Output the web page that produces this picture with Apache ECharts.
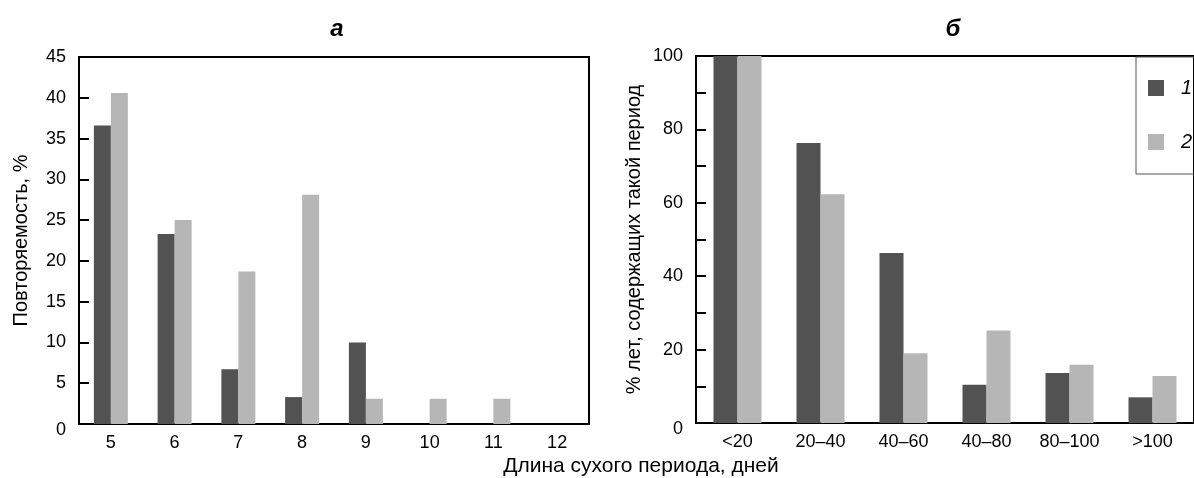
<!DOCTYPE html>
<html>
<head>
<meta charset="utf-8">
<script src="https://cdn.jsdelivr.net/npm/echarts@6/dist/echarts.min.js"></script>
<style>
html,body{margin:0;padding:0;background:#fff;}
#chart{width:1194px;height:478px;}
</style>
</head>
<body>
<div id="chart"></div>
<script>
// ---- data ----
var catsA = ['5', '6', '7', '8', '9', '10', '11', '12'];
var seriesA1 = [36.6, 23.3, 6.7, 3.3, 10.0, 0, 0, 0];
var seriesA2 = [40.6, 25.0, 18.7, 28.1, 3.1, 3.1, 3.1, 0];
var catsB = ['<20', '20–40', '40–60', '40–80', '80–100', '>100'];
var seriesB1 = [100, 76.3, 46.3, 10.4, 13.6, 7.0];
var seriesB2 = [100, 62.3, 19.0, 25.2, 15.9, 12.8];
var seriesNames = ['1', '2'];
var titleA = 'а', titleB = 'б';
var yNameA = 'Повторяемость, %';
var yNameB = '% лет, содержащих такой период';
var xName = 'Длина сухого периода, дней';

var FONT = "'Liberation Sans', Arial, sans-serif";
var DARK = '#525252', LIGHT = '#b6b6b6';
var tickFont = 18;

function zeroFmt(step) {
  return function (v) {
    if (v === 0) return '{z|0}';
    if (step && v % step !== 0) return '';
    return String(v);
  };
}
var zeroRich = { z: { fontFamily: FONT, fontSize: tickFont, color: '#000', padding: [12, 0, 0, 0] } };

var chart = echarts.init(document.getElementById('chart'));
chart.setOption({
  backgroundColor: '#fff',
  animation: false,
  title: [
    { text: titleA, left: 332, top: 12, textAlign: 'center',
      textStyle: { fontFamily: FONT, fontSize: 24, fontWeight: 'bold', fontStyle: 'italic', color: '#000' } },
    { text: titleB, left: 948, top: 12, textAlign: 'center',
      textStyle: { fontFamily: FONT, fontSize: 24, fontWeight: 'bold', fontStyle: 'italic', color: '#000' } }
  ],
  legend: {
    data: seriesNames,
    orient: 'vertical',
    left: 1136, top: 57,
    padding: [21, 40, 22, 12],
    itemWidth: 16, itemHeight: 16, itemGap: 34,
    borderColor: '#555', borderWidth: 1,
    icon: 'rect',
    textStyle: { fontFamily: FONT, fontSize: 20, fontStyle: 'italic', color: '#000', padding: [0, 0, 0, 12] }
  },
  graphic: [
    { type: 'text', x: 641, y: 466,
      style: { text: xName, fontFamily: FONT, fontSize: 21, fill: '#000', align: 'center', verticalAlign: 'middle', textAlign: 'center', textVerticalAlign: 'middle' } }
  ],
  grid: [
    { left: 79, top: 57, width: 510, height: 367, show: true, borderColor: '#000', borderWidth: 2, backgroundColor: 'transparent' },
    { left: 696, top: 56, width: 505, height: 367, show: true, borderColor: '#000', borderWidth: 2, backgroundColor: 'transparent' }
  ],
  xAxis: [
    { type: 'category', gridIndex: 0, data: catsA,
      axisLine: { lineStyle: { color: '#000', width: 2 } },
      axisTick: { inside: true, length: 10, lineStyle: { color: '#000', width: 2 } },
      axisLabel: { fontFamily: FONT, fontSize: tickFont, color: '#000', margin: 10 } },
    { type: 'category', gridIndex: 1, data: catsB,
      axisLine: { lineStyle: { color: '#000', width: 2 } },
      axisTick: { inside: true, length: 10, lineStyle: { color: '#000', width: 2 } },
      axisLabel: { fontFamily: FONT, fontSize: tickFont, color: '#000', margin: 10, interval: 0 } }
  ],
  yAxis: [
    { type: 'value', gridIndex: 0, min: 0, max: 45, interval: 5,
      name: yNameA, nameLocation: 'middle', nameGap: 48,
      nameTextStyle: { fontFamily: FONT, fontSize: 20, color: '#000' },
      splitLine: { show: false },
      axisLine: { show: true, lineStyle: { color: '#000', width: 2 } },
      axisTick: { show: true, inside: true, length: 10, lineStyle: { color: '#000', width: 2 } },
      axisLabel: { fontFamily: FONT, fontSize: tickFont, color: '#000', margin: 13, formatter: zeroFmt(0), rich: zeroRich } },
    { type: 'value', gridIndex: 1, min: 0, max: 100, interval: 10,
      name: yNameB, nameLocation: 'middle', nameGap: 52,
      nameTextStyle: { fontFamily: FONT, fontSize: 20, color: '#000' },
      splitLine: { show: false },
      axisLine: { show: true, lineStyle: { color: '#000', width: 2 } },
      axisTick: { show: true, inside: true, length: 10, lineStyle: { color: '#000', width: 2 } },
      axisLabel: { fontFamily: FONT, fontSize: tickFont, color: '#000', margin: 13, formatter: zeroFmt(20), rich: zeroRich } }
  ],
  series: [
    { name: seriesNames[0], type: 'bar', xAxisIndex: 0, yAxisIndex: 0, data: seriesA1,
      barWidth: 17, barGap: '0%', itemStyle: { color: DARK } },
    { name: seriesNames[1], type: 'bar', xAxisIndex: 0, yAxisIndex: 0, data: seriesA2,
      barWidth: 17, barGap: '0%', itemStyle: { color: LIGHT } },
    { name: seriesNames[0], type: 'bar', xAxisIndex: 1, yAxisIndex: 1, data: seriesB1,
      barWidth: 24, barGap: '0%', itemStyle: { color: DARK } },
    { name: seriesNames[1], type: 'bar', xAxisIndex: 1, yAxisIndex: 1, data: seriesB2,
      barWidth: 24, barGap: '0%', itemStyle: { color: LIGHT } }
  ]
});
</script>
</body>
</html>
